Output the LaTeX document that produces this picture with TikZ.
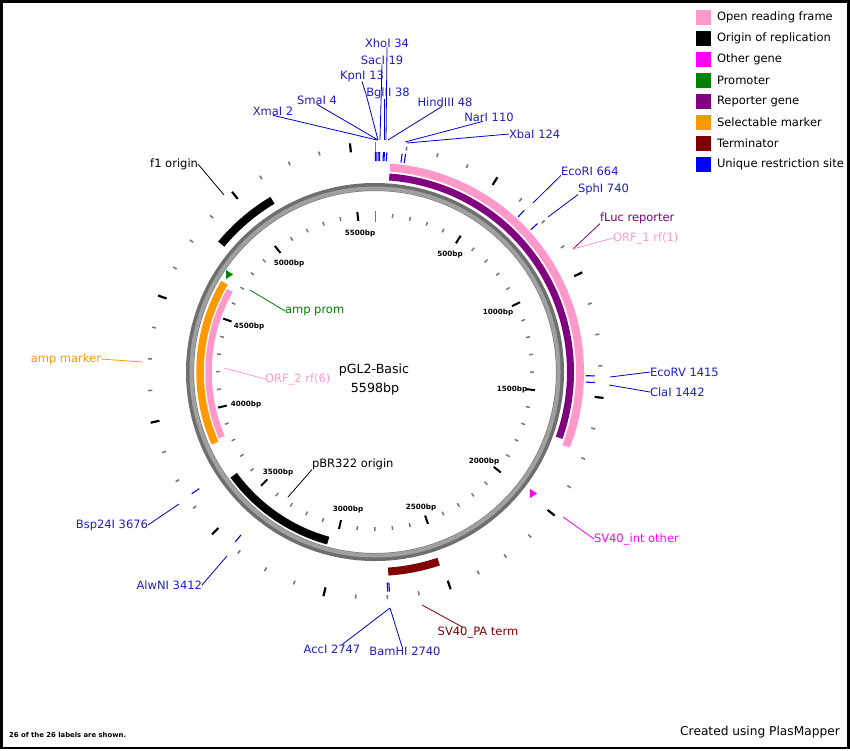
\documentclass[tikz,border=0pt]{standalone}
\usepackage{fontspec}
\setmainfont{DejaVu Sans}
\usetikzlibrary{calc}
\definecolor{orfpink}{RGB}{255,153,204}
\definecolor{othermag}{RGB}{255,0,255}
\definecolor{promgreen}{RGB}{0,128,0}
\definecolor{reppurple}{RGB}{128,0,128}
\definecolor{selorange}{RGB}{255,153,0}
\definecolor{termred}{RGB}{128,0,0}
\definecolor{siteblue}{RGB}{0,0,255}
\definecolor{sitetext}{RGB}{30,30,200}
\definecolor{ringgray}{RGB}{110,110,110}
\definecolor{ringlight}{RGB}{160,160,160}
\definecolor{tickgray}{RGB}{120,120,120}
\newcommand{\featarc}[5]{%
  \pgfmathsetmacro{\FAa}{#4*0.0643087-90}%
  \pgfmathsetmacro{\FAb}{#5*0.0643087-90}%
  \draw[#1, line width=#3pt] ([shift={(375,372)}]\FAa:#2) arc[start angle=\FAa, end angle=\FAb, radius=#2];%
}
\tikzset{
  lbl/.style={inner sep=0pt, outer sep=0pt, font=\fontsize{11.5}{13}\selectfont},
  sitelbl/.style={lbl, text=sitetext},
  siteline/.style={draw=siteblue!80!black, line width=0.8pt},
  scalelbl/.style={inner sep=0pt, font=\fontsize{7.2}{8}\selectfont\bfseries},
  legbox/.style={minimum width=15pt, minimum height=15pt, inner sep=0pt, anchor=west},
}
\begin{document}
\begin{tikzpicture}[x=1pt, y=-1pt]
\useasboundingbox (0,0) rectangle (850,750);
\fill[white] (0,0) rectangle (850,750);
\draw[black, line width=2.5pt] (1.25,1.25) rectangle (848.5,748);

% backbone ring
\draw[ringgray, line width=8pt] (375,372) circle[radius=185];
\draw[ringlight, line width=4pt] (375,372) circle[radius=183.5];

% features outside
\featarc{orfpink}{205}{8}{65}{1730}
\featarc{reppurple}{195.5}{7}{65}{1705}
\featarc{black}{200}{8}{4816}{5118}
\featarc{termred}{200}{8}{2510}{2740}
% features inside
\featarc{black}{175}{8}{3040}{3636}
\featarc{selorange}{175}{7.5}{3825}{4675}
\featarc{orfpink}{166.5}{6.5}{3840}{4655}

% triangles
\fill[promgreen] (226,270) -- (233,274.5) -- (226,279) -- cycle;
\fill[othermag] (530,489) -- (537,493.5) -- (530,498) -- cycle;

% outer ticks (every 125 bp)
\foreach \i in {0,...,44}{
  \pgfmathsetmacro{\TA}{\i*125*0.0643087-90}
  \pgfmathtruncatemacro{\TM}{mod(\i,4)}
  \ifnum\i=0
    \draw[tickgray, line width=1pt] ([shift={(375,372)}]\TA:220) -- ([shift={(375,372)}]\TA:230);
  \else\ifnum\TM=0
    \draw[black, line width=2.2pt] ([shift={(375,372)}]\TA:221) -- ([shift={(375,372)}]\TA:230);
  \else
    \draw[tickgray, line width=1.6pt] ([shift={(375,372)}]\TA:223.5) -- ([shift={(375,372)}]\TA:227.5);
  \fi\fi
}
% inner ticks (every 100 bp)
\foreach \i in {0,...,55}{
  \pgfmathsetmacro{\TA}{\i*6.43087-90}
  \pgfmathtruncatemacro{\TM}{mod(\i,5)}
  \ifnum\i=0
    \draw[tickgray, line width=1pt] ([shift={(375,372)}]\TA:150) -- ([shift={(375,372)}]\TA:161);
  \else\ifnum\TM=0
    \draw[black, line width=2pt] ([shift={(375,372)}]\TA:152) -- ([shift={(375,372)}]\TA:161);
  \else
    \draw[tickgray, line width=1.5pt] ([shift={(375,372)}]\TA:155) -- ([shift={(375,372)}]\TA:159);
  \fi\fi
}
% restriction site ticks
\foreach \p in {2,4,13,19,34,38,48,110,124,664,740,1415,1442,2740,2747,3412,3676}{
  \pgfmathsetmacro{\TA}{\p*0.0643087-90}
  \draw[siteblue, line width=1.1pt] ([shift={(375,372)}]\TA:211) -- ([shift={(375,372)}]\TA:220);
}

% scale labels
\node[scalelbl] (s500) at (450,255) {500bp};
\node[scalelbl] (s1000) at (498,313) {1000bp};
\node[scalelbl] (s1500) at (512,390) {1500bp};
\node[scalelbl] (s2000) at (484,462) {2000bp};
\node[scalelbl] (s2500) at (421,508) {2500bp};
\node[scalelbl] (s3000) at (348,510) {3000bp};
\node[scalelbl] (s3500) at (278,473) {3500bp};
\node[scalelbl] (s4000) at (246,405) {4000bp};
\node[scalelbl] (s4500) at (249,327) {4500bp};
\node[scalelbl] (s5000) at (289,264) {5000bp};
\node[scalelbl] (s5500) at (360,234) {5500bp};

% centre title
\node[inner sep=0pt, font=\fontsize{12.6}{14}\selectfont] (title) at (374,370) {pGL2-Basic};
\node[inner sep=0pt, font=\fontsize{12.6}{14}\selectfont] (size) at (375,389) {5598bp};

% site labels
\node[sitelbl] (xma) at (273,111) {XmaI 2};
\node[sitelbl] (sma) at (317,100) {SmaI 4};
\node[sitelbl] (kpn) at (362,76) {KpnI 13};
\node[sitelbl] (sac) at (382,60) {SacI 19};
\node[sitelbl] (xho) at (387,43) {XhoI 34};
\node[sitelbl] (bgl) at (388,93) {BglII 38};
\node[sitelbl] (hind) at (445,102) {HindIII 48};
\node[sitelbl] (nar) at (489,117) {NarI 110};
\node[sitelbl, anchor=west] (xba) at (509,134) {XbaI 124};
\node[sitelbl, anchor=west] (eco) at (561,171) {EcoRI 664};
\node[sitelbl, anchor=west] (sph) at (578,189) {SphI 740};
\node[sitelbl, anchor=west] (ecorv) at (650,372) {EcoRV 1415};
\node[sitelbl, anchor=west] (cla) at (650,392) {ClaI 1442};
\node[sitelbl] (acc) at (332,649) {AccI 2747};
\node[sitelbl] (bam) at (405,651) {BamHI 2740};
\node[sitelbl, anchor=east] (alw) at (202,585) {AlwNI 3412};
\node[sitelbl, anchor=east] (bsp) at (148,525) {Bsp24I 3676};

\coordinate (xmaE) at (377,140);
\coordinate (smaE) at (378,140);
\coordinate (kpnM) at (366,94);
\coordinate (kpnE) at (378,140);
\coordinate (sacE) at (380,140);
\coordinate (xhoE) at (386,140);
\coordinate (bglE) at (384,140);
\coordinate (hindE) at (388,140);
\coordinate (narE) at (405,142);
\coordinate (xbaE) at (407,143);
\coordinate (ecoE) at (533,203);
\coordinate (sphE) at (548,217);
\coordinate (ecorvE) at (610,377);
\coordinate (claE) at (609,385);
\coordinate (bamE) at (390,608);
\coordinate (alwE) at (227,556);
\coordinate (bspE) at (179,504);

\draw[siteline] (xma.south) -- (xmaE);
\draw[siteline] (sma.south) -- (smaE);
\draw[siteline] (kpn.south) -- (kpnM) -- (kpnE);
\draw[siteline] (sac.south) -- (sacE);
\draw[siteline] (xho.south) -- (xhoE);
\draw[siteline] ([xshift=-4pt]bgl.south) -- (bglE);
\draw[siteline] ([xshift=-3pt]hind.south) -- (hindE);
\draw[siteline] ([xshift=-6pt]nar.south) -- (narE);
\draw[siteline] (xba.west) -- (xbaE);
\draw[siteline] (eco.south west) -- (ecoE);
\draw[siteline] (sph.south west) -- (sphE);
\draw[siteline] (ecorv.west) -- (ecorvE);
\draw[siteline] (cla.west) -- (claE);
\draw[siteline] ([xshift=10pt]acc.north) -- (bamE);
\draw[siteline] ([xshift=-3pt]bam.north) -- (bamE);
\draw[siteline] (alw.east) -- (alwE);
\draw[siteline] (bsp.east) -- (bspE);

% feature labels
\node[lbl, anchor=west, text=reppurple] (fluc) at (600,218) {fLuc reporter};
\node[lbl, anchor=west, text=orfpink] (orf1) at (613,238) {ORF\_1 rf(1)};
\node[lbl, anchor=west, text=othermag] (sv40int) at (594,539) {SV40\_int other};
\node[lbl, text=termred] (sv40pa) at (478,633) {SV40\_PA term};
\node[lbl, anchor=east, text=selorange] (ampm) at (101,359) {amp marker};
\node[lbl, anchor=west, text=orfpink] (orf2) at (265,379) {ORF\_2 rf(6)};
\node[lbl, anchor=west, text=promgreen] (ampp) at (285,311) {amp prom};
\node[lbl, anchor=east, text=black] (f1) at (198,164) {f1 origin};
\node[lbl, anchor=west, text=black] (pbr) at (312,464) {pBR322 origin};

\coordinate (flucE) at (573,249);
\coordinate (sv40intE) at (563,517);
\coordinate (sv40paE) at (422,605);
\coordinate (ampmE) at (142,362);
\coordinate (orf2E) at (224,368);
\coordinate (amppE) at (250,290);
\coordinate (f1E) at (224,195);
\coordinate (pbrE) at (288,497);

\draw[reppurple, line width=0.8pt] (fluc.south west) -- (flucE);
\draw[orfpink, line width=0.8pt] (orf1.west) -- (flucE);
\draw[othermag, line width=0.8pt] (sv40int.west) -- (sv40intE);
\draw[termred, line width=0.8pt] ([xshift=-15pt]sv40pa.north) -- (sv40paE);
\draw[selorange, line width=0.8pt] (ampm.east) -- (ampmE);
\draw[orfpink, line width=0.8pt] (orf2.west) -- (orf2E);
\draw[promgreen, line width=0.8pt] (ampp.west) -- (amppE);
\draw[black, line width=0.8pt] (f1.east) -- (f1E);
\draw[black, line width=0.8pt] (pbr.south west) -- (pbrE);

% legend
\foreach \c/\t [count=\k from 0] in {orfpink/Open reading frame, black/Origin of replication, othermag/Other gene, promgreen/Promoter, reppurple/Reporter gene, selorange/Selectable marker, termred/Terminator, siteblue/Unique restriction site}{
  \node[legbox, fill=\c] (leg\k) at (696,{17+21*\k}) {};
  \node[lbl, anchor=west] (legt\k) at (717,{17+21*\k}) {\t};
}

% footers
\node[inner sep=0pt, anchor=west, font=\fontsize{6.85}{8}\selectfont\bfseries] (count) at (9,735) {26 of the 26 labels are shown.};
\node[inner sep=0pt, anchor=east, font=\fontsize{12.2}{14}\selectfont] (credit) at (840,732) {Created using PlasMapper};
\end{tikzpicture}
\end{document}
